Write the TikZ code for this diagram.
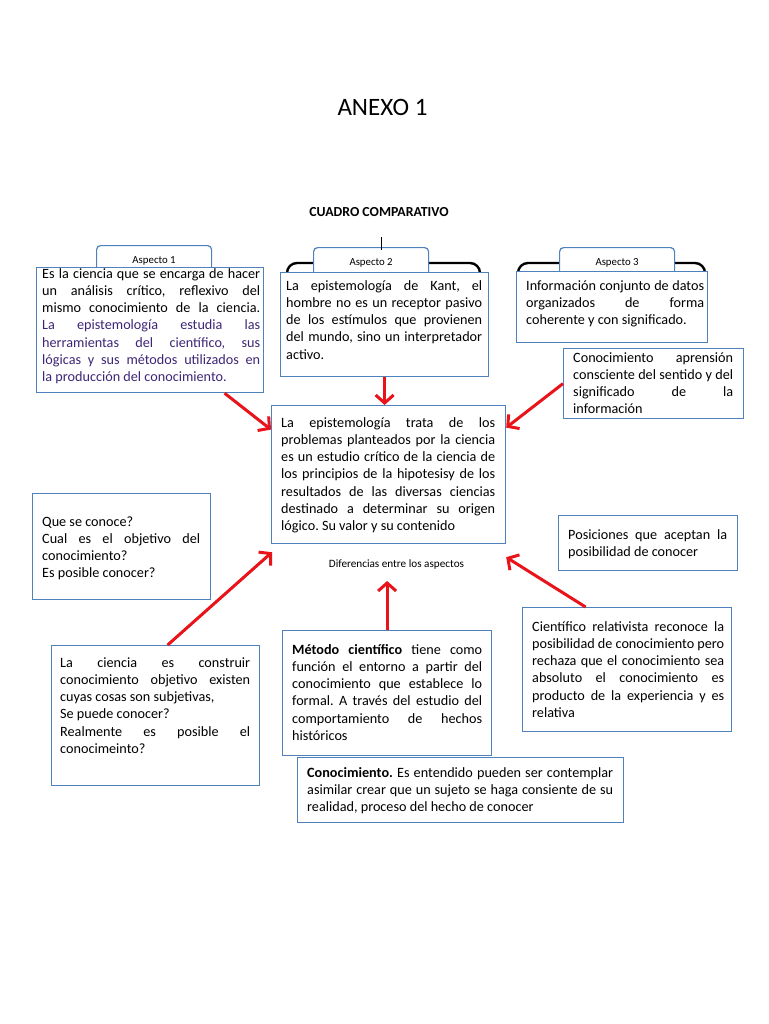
\documentclass[tikz,border=0pt]{standalone}
\usepackage{fontspec}
\setmainfont{Carlito}
\usetikzlibrary{arrows.meta,calc}
\definecolor{boxblue}{RGB}{79,129,189}
\definecolor{txtpurple}{RGB}{62,38,118}
\definecolor{arrred}{RGB}{232,20,26}
\frenchspacing
\begin{document}
\begin{tikzpicture}[x=1pt,y=-1pt,
  box/.style={draw=boxblue,line width=1.2pt,fill=white,inner sep=0pt,anchor=north west},
  tabbox/.style={draw=boxblue,line width=1.2pt,fill=white,rounded corners=4pt,inner sep=0pt,anchor=north west,minimum width=115pt,minimum height=30pt,font=\fontsize{10.8}{12}\selectfont},
  txt/.style={inner sep=0pt,anchor=north west,align=justify,font=\fontsize{14.2}{17.2}\selectfont,execute at begin node={\frenchspacing\tolerance=10000\hyphenpenalty=10000\hbadness=10000}},
  bracket/.style={draw=black,line width=2.4pt,rounded corners=10pt},
  arr/.style={draw=arrred,line width=3pt,-{Straight Barb[length=8pt,width=18pt]}}
]
\useasboundingbox (0,0) rectangle (768,1024);
\fill[white] (0,0) rectangle (768,1024);

% titles
\node[font=\fontsize{25}{30}\selectfont,anchor=base] (title) at (382.5,116) {ANEXO 1};
\node[font=\bfseries\fontsize{13.8}{16}\selectfont,anchor=base] (cuadro) at (379,217) {CUADRO COMPARATIVO};

% brackets
\draw[bracket] (287,290) -- (287,263) -- (320,263);
\draw[bracket] (420,263) -- (480,263) -- (480,290);
\draw[bracket] (518,290) -- (518,263) -- (565,263);
\draw[bracket] (670,263) -- (705,263) -- (705,290);

% tabs
\node[tabbox] (t1) at (96,245) {Aspecto 1};
\node[tabbox] (t2) at (313,247) {Aspecto 2};
\node[tabbox] (t3) at (559,247) {Aspecto 3};
\draw[line width=1.2pt] ($(t2.north)+(10,-10)$) coordinate (vtop) -- ($(t2.north)+(10,3)$);

% boxes
\node[box,minimum width=227pt,minimum height=125pt] (b1) at (36,267) {};
\node[box,minimum width=208pt,minimum height=104pt] (b2) at (280,272) {};
\node[box,minimum width=191pt,minimum height=71pt] (b3) at (516,271) {};
\node[box,minimum width=180pt,minimum height=70pt] (b4) at (563,348) {};
\node[box,minimum width=234pt,minimum height=138pt] (c) at (271,405) {};
\node[box,minimum width=178pt,minimum height=106pt] (b5) at (32,493) {};
\node[box,minimum width=179pt,minimum height=55pt] (b6) at (558,515) {};
\node[box,minimum width=208pt,minimum height=140pt] (b7) at (51,645) {};
\node[box,minimum width=209pt,minimum height=124pt] (b9) at (522,607) {};
\node[box,minimum width=209pt,minimum height=125pt] (b8) at (282,630) {};
\node[box,minimum width=326pt,minimum height=65pt] (b10) at (297,757) {};

% texts
\node[txt,text width=218pt] (x1) at (42,265.96) {\strut Es la ciencia que se encarga de hacer\linebreak un análisis crítico, reflexivo del\linebreak mismo conocimiento de la ciencia.\linebreak {\color{txtpurple}La epistemología estudia las\linebreak herramientas del científico, sus\linebreak lógicas y sus métodos utilizados en\linebreak la producción del conocimiento.}};
\node[txt,text width=196pt] (x2) at (286,277.96) {\strut La epistemología de Kant, el\linebreak hombre no es un receptor pasivo\linebreak de los estímulos que provienen\linebreak del mundo, sino un interpretador\linebreak activo.};
\node[txt,text width=178pt] (x3) at (526,277.96) {\strut Información conjunto de datos\linebreak organizados de forma\linebreak coherente y con significado.};
\node[txt,text width=160pt] (x4) at (573,349.96) {\strut Conocimiento aprensión\linebreak consciente del sentido y del\linebreak significado de la\linebreak información};
\node[txt,text width=214pt] (xc) at (281,414.96) {\strut La epistemología trata de los\linebreak problemas planteados por la ciencia\linebreak es un estudio crítico de la ciencia de\linebreak los principios de la hipotesisy de los\linebreak resultados de las diversas ciencias\linebreak destinado a determinar su origen\linebreak lógico. Su valor y su contenido};
\node[txt,text width=158pt] (x5) at (42,513.96) {\strut Que se conoce?\newline Cual es el objetivo del\linebreak conocimiento?\newline Es posible conocer?};
\node[txt,text width=159pt] (x6) at (568,526.96) {\strut Posiciones que aceptan la\linebreak posibilidad de conocer};
\node[txt,text width=190pt] (x7) at (60,654.96) {\strut La ciencia es construir\linebreak conocimiento objetivo existen\linebreak cuyas cosas son subjetivas,\newline Se puede conocer?\newline Realmente es posible el\linebreak conocimeinto?};
\node[txt,text width=190pt] (x8) at (292,641.96) {\strut\textbf{Método científico} tiene como\linebreak función el entorno a partir del\linebreak conocimiento que establece lo\linebreak formal. A través del estudio del\linebreak comportamiento de hechos\linebreak históricos};
\node[txt,text width=192pt] (x9) at (532,618.96) {\strut Científico relativista reconoce la\linebreak posibilidad de conocimiento pero\linebreak rechaza que el conocimiento sea\linebreak absoluto el conocimiento es\linebreak producto de la experiencia y es\linebreak relativa};
\node[txt,text width=306pt] (x10) at (307,764.96) {\strut\textbf{Conocimiento.} Es entendido pueden ser contemplar\linebreak asimilar crear que un sujeto se haga consiente de su\linebreak realidad, proceso del hecho de conocer};

\node[font=\fontsize{11.2}{13}\selectfont,anchor=base] (dif) at (396.5,567) {Diferencias entre los aspectos};

% arrows
\draw[arr] ($(b1.south)+(74.5,0)$) -- ($(c.west)+(0,-45)$);
\draw[arr] (b2.south) -- (b2.south |- c.north);
\draw[arr] (b4.west) -- ($(c.east)+(0,-47)$);
\draw[arr] ($(b7.north)+(12,0)$) -- ($(c.south west)+(1,8)$);
\draw[arr] (b8.north) -- ($(b8.north)+(0,-49)$);
\draw[arr] ($(b9.north)+(-41.5,0)$) -- ($(c.south east)+(0,13)$);
\end{tikzpicture}
\end{document}
